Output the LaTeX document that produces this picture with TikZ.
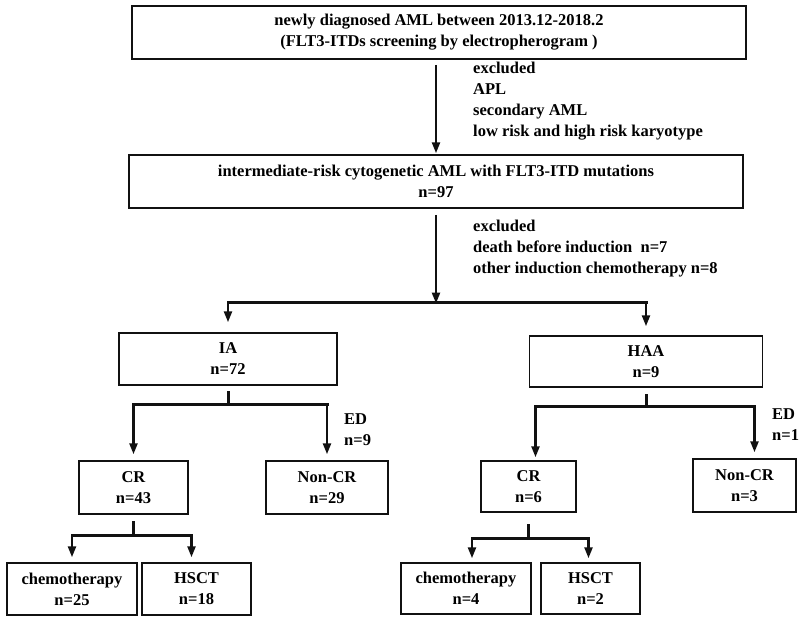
\documentclass[tikz,border=0pt]{standalone}
\usepackage{fontspec}
\setmainfont{Liberation Serif}
\usepackage{xcolor}
\usepackage{tikz}
\usetikzlibrary{positioning,arrows.meta,calc}
\definecolor{ink}{HTML}{111111}

\begin{document}
\begin{tikzpicture}[x=1pt,y=-1pt,
    font=\bfseries\fontsize{16.5}{21}\selectfont,
    box/.style={draw=ink,line width=1.5pt,align=center,inner sep=0pt},
    arr/.style={draw=ink,line width=2.4pt,-{Triangle[length=11pt,width=8pt]}},
    bar/.style={draw=ink,line width=3pt,line cap=rect},
    note/.style={align=left,anchor=north west,inner sep=0pt}]
  \useasboundingbox[fill=white] (0,0) rectangle (800,621);

  % main column
  \node[box,minimum width=614pt,minimum height=53pt] (diag) at (439,32.5)
    {newly diagnosed AML between 2013.12-2018.2\\(FLT3-ITDs screening by electropherogram )};
  \node[box,minimum width=614pt,minimum height=53pt] (inter) at (436,181.5)
    {intermediate-risk cytogenetic AML with FLT3-ITD mutations\\n=97};
  \draw[arr] ([yshift=-5pt]diag.south -| inter.north) -- ([yshift=1pt]inter.north);
  \node[note] (excl1) at (473,62)
    {excluded\\APL\\secondary AML\\low risk and high risk karyotype};

  \node[note] (excl2) at (473,220)
    {excluded\\death before induction\ \ n=7\\other induction chemotherapy n=8};

  % induction arms
  \node[box,minimum width=218pt,minimum height=52pt] (ia) at (228,359) {IA\\n=72};
  \node[box,minimum width=233pt,minimum height=51pt] (haa) at (646,361.5) {HAA\\n=9};
  \coordinate (split) at (436,302.5);
  \draw[arr] ([yshift=-6pt]inter.south) -- ([yshift=-1pt]split);
  \draw[bar] (ia.north |- split) -- (haa.north |- split);
  \draw[arr] (ia.north |- split) -- ([yshift=10pt]ia.north);
  \draw[arr] (haa.north |- split) -- ([yshift=9pt]haa.north);

  % response after IA
  \node[box,minimum width=109pt,minimum height=53pt] (cra) at (133.5,487.5) {CR\\n=43};
  \node[box,minimum width=122pt,minimum height=53pt] (ncra) at (327,487.5) {Non-CR\\n=29};
  \coordinate (ia-stem) at ([yshift=-19pt]ia.south);
  \draw[bar] ([yshift=-7pt]ia.south) -- (ia-stem);
  \draw[bar] (cra.north |- ia-stem) -- (ncra.north |- ia-stem);
  \draw[arr] (cra.north |- ia-stem) -- ([yshift=6pt]cra.north);
  \draw[arr] (ncra.north |- ia-stem) -- ([yshift=6pt]ncra.north);
  \node[note] (eda) at (344,413) {ED\\n=9};

  % response after HAA
  \node[box,minimum width=95pt,minimum height=51pt] (crb) at (528.5,486.5) {CR\\n=6};
  \node[box,minimum width=103pt,minimum height=53pt] (ncrb) at (744.5,485.5) {Non-CR\\n=3};
  \coordinate (haa-stem) at ([yshift=-19pt]haa.south);
  \draw[bar] ([yshift=-8pt]haa.south) -- (haa-stem);
  \draw[bar] ([xshift=7pt]crb.north |- haa-stem) -- ([xshift=10pt]ncrb.north |- haa-stem);
  \draw[arr] ([xshift=7pt]crb.north |- haa-stem) -- ([xshift=7pt,yshift=3pt]crb.north);
  \draw[arr] ([xshift=10pt]ncrb.north |- haa-stem) -- ([xshift=10pt,yshift=6pt]ncrb.north);
  \node[note] (edb) at (772,408) {ED\\n=1};

  % post-remission therapy
  \node[box,minimum width=130pt,minimum height=52pt] (chema) at (72,589) {chemotherapy\\n=25};
  \node[box,minimum width=109pt,minimum height=52pt] (hscta) at (196.5,589) {HSCT\\n=18};
  \coordinate (cra-stem) at ([yshift=-21pt]cra.south);
  \draw[bar] ([yshift=-8pt]cra.south) -- (cra-stem);
  \draw[bar] (chema.north |- cra-stem) -- ([xshift=-5pt]hscta.north |- cra-stem);
  \draw[arr] (chema.north |- cra-stem) -- ([yshift=5pt]chema.north);
  \draw[arr] ([xshift=-5pt]hscta.north |- cra-stem) -- ([xshift=-5pt,yshift=5pt]hscta.north);

  \node[box,minimum width=130pt,minimum height=51pt] (chemb) at (466,588.5) {chemotherapy\\n=4};
  \node[box,minimum width=99pt,minimum height=51pt] (hsctb) at (590.5,588.5) {HSCT\\n=2};
  \coordinate (crb-stem) at ([yshift=-26pt]crb.south);
  \draw[bar] ([yshift=-13pt]crb.south) -- (crb-stem);
  \draw[bar] ([xshift=6pt]chemb.north |- crb-stem) -- ([xshift=-2pt]hsctb.north |- crb-stem);
  \draw[arr] ([xshift=6pt]chemb.north |- crb-stem) -- ([xshift=6pt,yshift=4pt]chemb.north);
  \draw[arr] ([xshift=-2pt]hsctb.north |- crb-stem) -- ([xshift=-2pt,yshift=4pt]hsctb.north);
\end{tikzpicture}
\end{document}
